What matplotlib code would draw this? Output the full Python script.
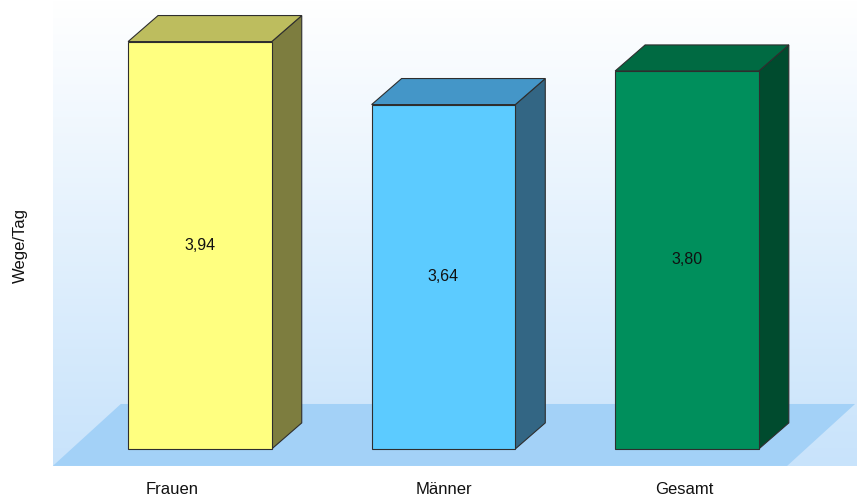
import numpy as np
import matplotlib.pyplot as plt
from matplotlib.patches import Polygon, Rectangle
from matplotlib.colors import LinearSegmentedColormap

plt.rcParams['font.family'] = ['Liberation Sans', 'DejaVu Sans']

# Wege pro Tag nach Geschlecht
categories = ['Frauen', 'Männer', 'Gesamt']
values = [3.94, 3.64, 3.80]
value_labels = ['3,94', '3,64', '3,80']

front_colors = ['#ffff80', '#5ccbff', '#008f5c']
top_colors = ['#bdbd5e', '#4496c8', '#006a42']
side_colors = ['#7d7d3f', '#336684', '#004b2e']

base = 2.0       # value axis starts here
bar_w = 0.59     # width of front face, category units
dx, dy = 0.123, 0.124   # 3d depth offset

fig = plt.figure(figsize=(8.57, 5.01), dpi=100)
ax = fig.add_axes([0, 0, 1, 1])
xmin, xmax = -0.821, 2.698
ymin, ymax = 1.752, 4.138

# back wall with vertical gradient
wall_x0 = -0.604
floor_front, floor_back = 1.919, 2.214
cmap = LinearSegmentedColormap.from_list('wall', ['#c8e3fb', '#ffffff'])
grad = np.linspace(0, 1, 256).reshape(-1, 1)
ax.imshow(grad, cmap=cmap, aspect='auto', origin='lower',
          extent=[wall_x0, xmax, floor_front, ymax], zorder=0)

# floor
shear = 0.279
floor = Polygon([(wall_x0, floor_front), (2.411, floor_front),
                 (2.411 + shear, floor_back), (wall_x0 + shear, floor_back)],
                closed=True, facecolor='#a3d1f7', edgecolor='none', zorder=1)
ax.add_patch(floor)

edge = '#2e2e2e'
for i, v in enumerate(values):
    x0, x1 = i - bar_w / 2, i + bar_w / 2
    side = Polygon([(x1, base), (x1 + dx, base + dy), (x1 + dx, v + dy), (x1, v)],
                   closed=True, facecolor=side_colors[i], edgecolor=edge, lw=0.8, zorder=2)
    top = Polygon([(x0, v), (x1, v), (x1 + dx, v + dy), (x0 + dx, v + dy)],
                  closed=True, facecolor=top_colors[i], edgecolor=edge, lw=0.8, zorder=2)
    front = Rectangle((x0, base), bar_w, v - base,
                      facecolor=front_colors[i], edgecolor=edge, lw=0.8, zorder=3)
    ax.add_patch(side)
    ax.add_patch(top)
    ax.add_patch(front)
    ax.text(i, (base + v) / 2, value_labels[i], ha='center', va='center',
            fontsize=11.5, color='#111111', zorder=4)

label_x = [-0.115, 1.0, 1.99]
for x, name in zip(label_x, categories):
    ax.text(x, 1.808, name, ha='center', va='center', fontsize=12, color='#111111')

ax.text(-0.739, 2.971, 'Wege/Tag', rotation=90, ha='center', va='center',
        fontsize=12, color='#111111')

ax.set_xlim(xmin, xmax)
ax.set_ylim(ymin, ymax)
ax.axis('off')

fig.savefig('out.png', dpi=100)
